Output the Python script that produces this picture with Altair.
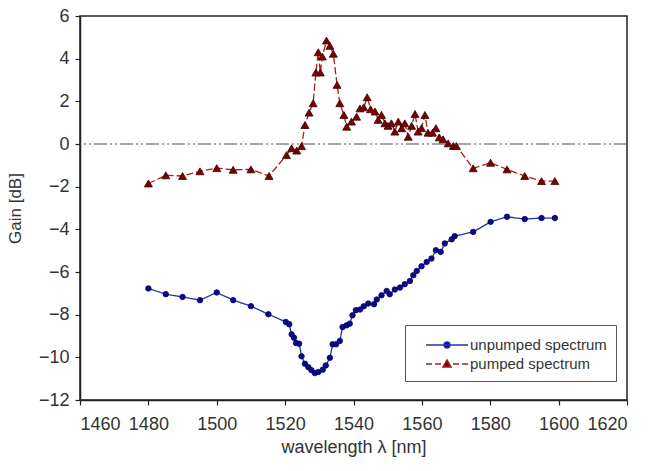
import altair as alt
import pandas as pd

# ---- data ----
wl_unpumped = [1480.0, 1485.1, 1490.0, 1495.1, 1500.0, 1504.8, 1510.0, 1515.1, 1520.2, 1521.2,
               1521.9, 1522.6, 1523.2, 1524.1, 1524.8, 1525.8, 1526.8, 1527.7, 1528.7, 1529.7,
               1531.0, 1531.9, 1533.1, 1533.9, 1534.9, 1536.0, 1536.8, 1538.0, 1538.9, 1539.7,
               1540.7, 1541.9, 1543.0, 1544.3, 1546.0, 1546.8, 1548.2, 1549.7, 1550.6, 1552.1,
               1553.6, 1555.0, 1556.5, 1557.5, 1558.5, 1559.9, 1561.4, 1562.8, 1564.1, 1565.5,
               1566.7, 1568.7, 1569.6, 1575.0, 1580.1, 1584.9, 1590.1, 1595.0, 1598.9]
gain_unpumped = [-6.77, -7.04, -7.17, -7.32, -6.96, -7.32, -7.60, -7.98, -8.34, -8.45,
                 -8.92, -9.08, -9.33, -9.36, -9.95, -10.30, -10.46, -10.60, -10.74, -10.69,
                 -10.58, -10.38, -10.02, -9.39, -9.39, -9.23, -8.58, -8.50, -8.42, -8.03,
                 -7.79, -7.76, -7.61, -7.48, -7.51, -7.29, -7.09, -6.89, -7.04, -6.82,
                 -6.73, -6.57, -6.42, -6.15, -5.95, -5.73, -5.53, -5.37, -4.98, -5.06,
                 -4.66, -4.47, -4.32, -4.12, -3.65, -3.41, -3.52, -3.47, -3.47]

wl_pumped = [1480.0, 1485.1, 1490.0, 1495.1, 1500.0, 1504.8, 1510.0, 1515.3, 1520.4, 1521.9,
             1523.4, 1524.8, 1525.8, 1527.0, 1528.2, 1529.0, 1529.7, 1530.3, 1530.9, 1532.1,
             1533.1, 1534.1, 1535.2, 1536.0, 1537.2, 1538.0, 1539.4, 1540.9, 1541.9, 1543.0,
             1544.0, 1545.0, 1546.3, 1547.2, 1548.2, 1549.2, 1550.1, 1551.1, 1552.1, 1553.1,
             1554.1, 1555.0, 1556.0, 1557.0, 1558.0, 1558.9, 1559.9, 1560.9, 1561.8, 1563.1,
             1564.1, 1565.1, 1566.2, 1567.7, 1569.2, 1570.1, 1575.0, 1580.1, 1584.9, 1590.1,
             1595.0, 1598.9]
gain_pumped = [-1.85, -1.47, -1.50, -1.28, -1.13, -1.21, -1.19, -1.50, -0.52, -0.20,
               -0.31, -0.10, 0.89, 1.47, 1.91, 3.35, 4.30, 3.35, 4.10, 4.85,
               4.60, 4.23, 2.77, 1.91, 1.36, 0.81, 1.05, 1.28, 1.67, 1.72,
               2.19, 1.63, 1.52, 1.13, 1.36, 0.97, 0.85, 0.97, 0.58, 1.05,
               0.74, 0.97, 0.34, 0.85, 1.41, 0.58, 0.74, 1.36, 0.53, 0.53,
               0.74, 0.31, 0.22, 0.03, -0.09, -0.09, -1.14, -0.88, -1.19, -1.50,
               -1.74, -1.74]

SERIES = ["unpumped spectrum", "pumped spectrum"]
KINDS = ["u", "p"]
x_ticks = [1460, 1480, 1500, 1520, 1540, 1560, 1580, 1600, 1620]
y_ticks = [-12, -10, -8, -6, -4, -2, 0, 2, 4, 6]

rows = []
for i, (w, g) in enumerate(zip(wl_unpumped, gain_unpumped)):
    rows.append({"wl": w, "gain": g, "series": SERIES[0], "kind": KINDS[0], "order": i})
for i, (w, g) in enumerate(zip(wl_pumped, gain_pumped)):
    rows.append({"wl": w, "gain": g, "series": SERIES[1], "kind": KINDS[1], "order": i})
df = pd.DataFrame(rows)

FONT = "Liberation Sans"
LINE_COLORS = ["#2232b0", "#a81c1c"]
FILL_COLORS = ["#0b0b86", "#7d0000"]
EDGE_COLORS = ["#000066", "#3a0000"]

x_enc = alt.X("wl:Q", scale=alt.Scale(domain=[1460, 1620], nice=False, zero=False),
              axis=alt.Axis(values=x_ticks, format="d", title="wavelength λ [nm]",
                            labelFontSize=18, titleFontSize=18, labelPadding=10, titlePadding=5))
y_enc = alt.Y("gain:Q", scale=alt.Scale(domain=[-12, 6], nice=False, zero=False),
              axis=alt.Axis(values=y_ticks, format="d", title="Gain [dB]", labelFontSize=18,
                            titleFontSize=17, labelPadding=6, titlePadding=14))

zero_line = alt.Chart(pd.DataFrame({"z": [0]})).mark_rule(
    color="#4a4a4a", strokeWidth=1, strokeDash=[13, 3, 2, 3, 2, 3]
).encode(y=alt.Y("z:Q", scale=alt.Scale(domain=[-12, 6], nice=False)))

lines = alt.Chart(df).mark_line(strokeWidth=1.3).encode(
    x=x_enc, y=y_enc,
    color=alt.Color("kind:N", scale=alt.Scale(domain=KINDS, range=LINE_COLORS), legend=None),
    strokeDash=alt.StrokeDash("kind:N", scale=alt.Scale(domain=KINDS, range=[[1, 0], [7, 3]]),
                              legend=None),
    order="order:Q",
)

path_unpumped = "M-2.1,0H2.1M-0.3,0A0.3,0.3 0 1,0 0.3,0A0.3,0.3 0 1,0 -0.3,0Z"
path_pumped = ("M-2.1,0H-1.5M-1.2,0H-0.6M0.6,0H1.2M1.5,0H2.1"
               "M-0.42,0.3L0,-0.42L0.42,0.3Z")


def pick(a, b):
    return "datum.value === '%s' ? '%s' : '%s'" % (SERIES[0], a, b)


legend = alt.Legend(
    title=None, orient="none", legendX=325, legendY=309,
    strokeColor="#555555", fillColor="white", padding=9, rowPadding=0,
    labelFont=FONT, labelFontSize=15, labelColor="#333333",
    symbolSize=400, symbolOffset=22, labelOffset=12, labelLimit=300,
    symbolType=alt.ExprRef(expr=pick(path_unpumped, path_pumped)),
    symbolStrokeColor=alt.ExprRef(expr=pick(LINE_COLORS[0], LINE_COLORS[1])),
    symbolStrokeWidth=1.3, symbolOpacity=1,
)

points = alt.Chart(df).mark_point(filled=True, opacity=1, strokeWidth=0.8).encode(
    x=x_enc, y=y_enc,
    fill=alt.Fill("series:N", scale=alt.Scale(domain=SERIES, range=FILL_COLORS), legend=legend),
    stroke=alt.Stroke("kind:N", scale=alt.Scale(domain=KINDS, range=EDGE_COLORS), legend=None),
    shape=alt.Shape("kind:N", scale=alt.Scale(domain=KINDS, range=["circle", "triangle-up"]),
                    legend=None),
    size=alt.Size("kind:N", scale=alt.Scale(domain=KINDS, range=[30, 64]), legend=None),
)

chart = alt.layer(zero_line, lines, points).properties(
    width=547, height=384,
    autosize=alt.AutoSizeParams(type="none"),
    padding={"left": 80, "top": 16, "right": 22, "bottom": 71},
).configure_view(
    stroke="#222222", strokeWidth=1.5
).configure_axis(
    grid=False, domainColor="#222222", domainWidth=1.5, tickColor="#222222", tickSize=5,
    tickWidth=1.2, labelFont=FONT, titleFont=FONT, labelColor="#333333", titleColor="#333333",
    titleFontWeight="normal",
)

chart.save("out.html", embed_options={"renderer": "svg", "actions": False})
